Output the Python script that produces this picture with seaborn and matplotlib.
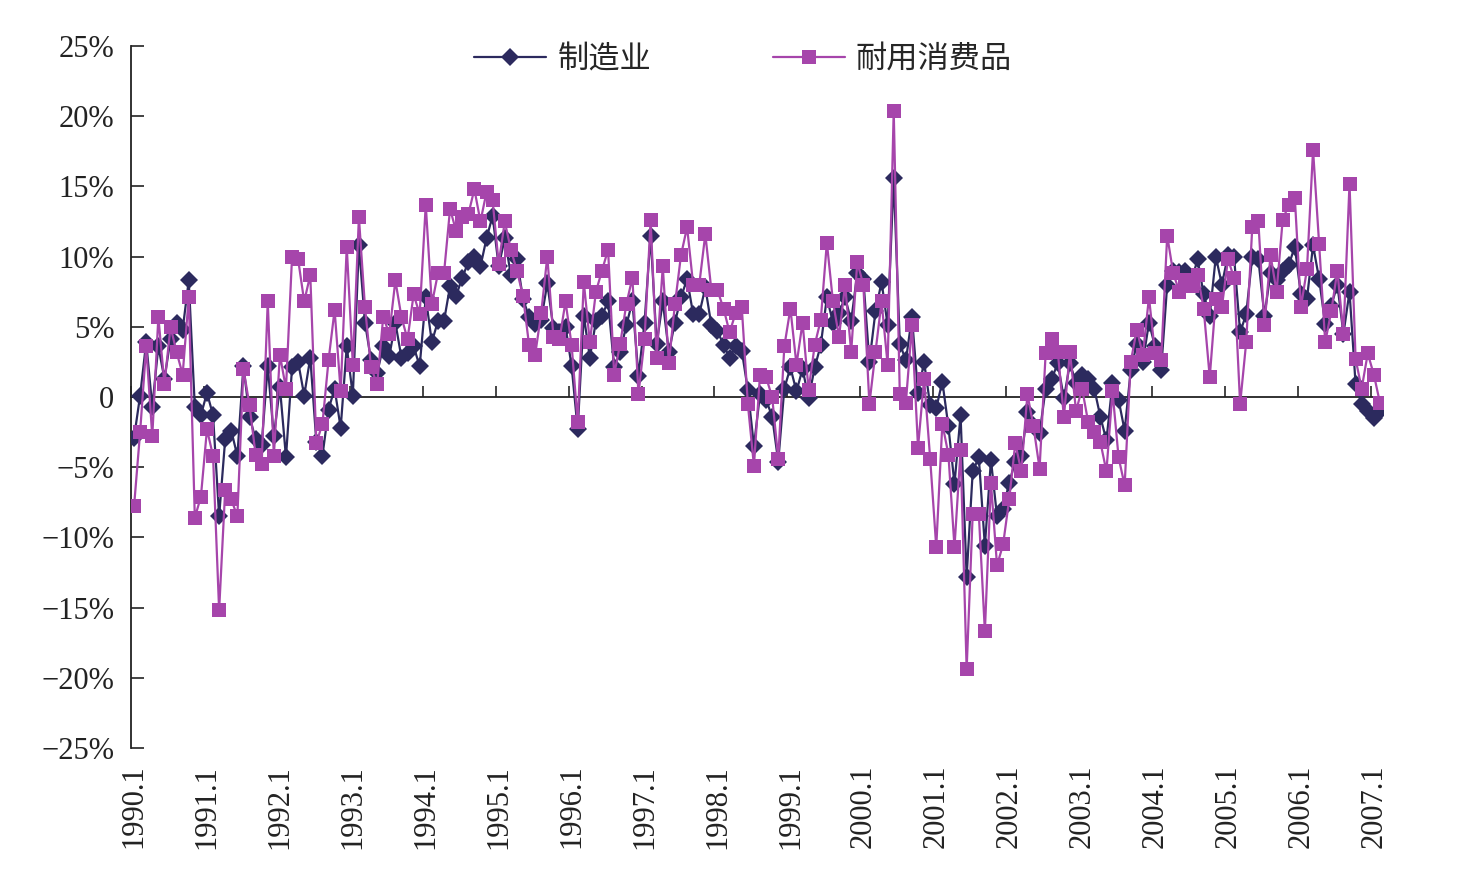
import numpy as np
import pandas as pd
import matplotlib
matplotlib.use("Agg")
import matplotlib.pyplot as plt
import seaborn as sns

# ---- data (monthly, 1990.1 - 2007.2), percent ----
manufacturing = [
    -2.9, 0.1, 3.9, -0.7, 3.6, 1.3, 4.1, 5.3, 4.8, 8.3, -0.7, -1.3,      # 1990
    0.3, -1.3, -8.5, -3.0, -2.4, -4.2, 2.2, -1.4, -3.0, -3.4, 2.2, -2.8,  # 1991
    0.7, -4.3, 2.1, 2.5, 0.1, 2.8, -3.2, -4.2, -0.9, 0.6, -2.2, 3.6,      # 1992
    0.1, 10.8, 5.3, 2.6, 1.7, 3.6, 2.9, 5.3, 2.8, 3.1, 3.6, 2.2,          # 1993
    7.1, 3.9, 5.4, 5.4, 7.9, 7.2, 8.5, 9.6, 10.0, 9.3, 11.3, 12.9,        # 1994
    9.3, 11.3, 8.7, 9.8, 7.0, 5.7, 5.2, 5.5, 8.1, 4.9, 4.6, 5.0,          # 1995
    2.2, -2.3, 5.8, 2.8, 5.4, 5.8, 6.8, 2.1, 3.2, 5.1, 6.8, 1.5,          # 1996
    5.3, 11.5, 3.8, 6.8, 3.2, 5.3, 7.1, 8.4, 5.9, 5.9, 7.8, 5.1,          # 1997
    4.7, 3.7, 2.8, 3.6, 3.3, 0.5, -3.5, 0.2, -0.2, -1.4, -4.6, 0.6,       # 1998
    2.1, 0.4, 2.0, -0.1, 2.1, 3.7, 7.1, 5.3, 6.0, 7.1, 5.4, 8.8,          # 1999
    8.4, 2.5, 6.1, 8.2, 5.1, 15.6, 3.8, 2.6, 5.7, 0.3, 2.5, -0.6,         # 2000
    -0.8, 1.1, -2.1, -6.2, -1.3, -12.8, -5.3, -4.3, -10.6, -4.5, -8.5, -8.0,  # 2001
    -6.1, -4.6, -4.2, -1.1, -2.0, -2.6, 0.6, 1.3, 2.4, -0.1, 2.4, 1.0,    # 2002
    1.6, 1.3, 0.6, -1.4, -3.1, 1.0, -0.2, -2.4, 1.9, 3.8, 2.5, 5.3,       # 2003
    3.6, 1.9, 8.0, 9.0, 8.9, 9.0, 8.3, 9.8, 7.3, 5.8, 10.0, 8.0,          # 2004
    10.1, 10.0, 4.6, 5.9, 10.0, 9.8, 5.8, 8.8, 8.3, 9.0, 9.4, 10.7,       # 2005
    7.3, 7.0, 10.8, 8.4, 5.2, 6.5, 8.0, 4.5, 7.5, 0.9, -0.5, -1.0,        # 2006
    -1.5, -1.0,                                                           # 2007
]
durables = [
    -7.8, -2.5, 3.6, -2.8, 5.7, 0.9, 5.0, 3.2, 1.6, 7.1, -8.6, -7.1,      # 1990
    -2.3, -4.2, -15.2, -6.6, -7.3, -8.5, 2.0, -0.6, -4.1, -4.8, 6.8, -4.2,  # 1991
    3.0, 0.6, 10.0, 9.8, 6.8, 8.7, -3.3, -1.9, 2.6, 6.2, 0.4, 10.7,       # 1992
    2.3, 12.8, 6.4, 2.1, 0.9, 5.7, 4.5, 8.3, 5.7, 4.1, 7.3, 5.9,          # 1993
    13.7, 6.6, 8.8, 8.8, 13.4, 11.8, 12.8, 13.0, 14.8, 12.5, 14.6, 14.0,  # 1994
    9.5, 12.5, 10.5, 9.0, 7.2, 3.7, 3.0, 6.0, 10.0, 4.3, 4.1, 6.8,        # 1995
    3.7, -1.8, 8.2, 3.9, 7.5, 9.0, 10.5, 1.6, 3.8, 6.6, 8.5, 0.2,         # 1996
    4.1, 12.6, 2.8, 9.3, 2.4, 6.6, 10.1, 12.1, 8.0, 8.0, 11.6, 7.6,       # 1997
    7.6, 6.3, 4.6, 6.0, 6.4, -0.5, -4.9, 1.6, 1.4, 0.0, -4.4, 3.6,        # 1998
    6.3, 2.3, 5.3, 0.5, 3.7, 5.5, 11.0, 6.8, 4.3, 8.0, 3.2, 9.6,          # 1999
    8.0, -0.5, 3.2, 6.8, 2.3, 20.4, 0.2, -0.4, 5.1, -3.6, 1.3, -4.4,      # 2000
    -10.7, -1.9, -4.1, -10.7, -3.8, -19.4, -8.3, -8.3, -16.7, -6.1, -12.0, -10.5,  # 2001
    -7.3, -3.3, -5.3, 0.2, -2.1, -5.1, 3.1, 4.1, 3.2, -1.4, 3.2, -1.0,    # 2002
    0.6, -1.8, -2.5, -3.2, -5.3, 0.4, -4.3, -6.3, 2.5, 4.8, 3.0, 7.1,     # 2003
    3.1, 2.6, 11.5, 8.8, 7.5, 8.3, 7.9, 8.7, 6.3, 1.4, 7.0, 6.4,          # 2004
    9.8, 8.5, -0.5, 3.9, 12.1, 12.5, 5.1, 10.1, 7.5, 12.6, 13.7, 14.2,    # 2005
    6.4, 9.1, 17.6, 10.9, 3.9, 6.1, 9.0, 4.5, 15.2, 2.7, 0.6, 3.1,        # 2006
    1.6, -0.4,                                                            # 2007
]
series_names = ["制造业", "耐用消费品"]
year_labels = [f"{y}.1" for y in range(1990, 2008)]
y_ticks = [25, 20, 15, 10, 5, 0, -5, -10, -15, -20, -25]
y_labels = ["25%", "20%", "15%", "10%", "5%", "0", "\u22125%", "\u221210%",
            "\u221215%", "\u221220%", "\u221225%"]

n = len(manufacturing)
df = pd.DataFrame({
    "idx": np.arange(n),
    series_names[0]: manufacturing,
    series_names[1]: durables,
})

sns.set_style("white")
plt.rcParams["font.family"] = ["Liberation Serif", "Noto Sans CJK SC", "DejaVu Sans"]
plt.rcParams["axes.unicode_minus"] = True

fig = plt.figure(figsize=(14.67, 8.74), dpi=100)
ax = fig.add_axes([0.0893, 0.1442, 0.8534, 0.8032])

navy = "#2C2A5E"
pink = "#A645AB"

sns.lineplot(data=df, x="idx", y=series_names[0], ax=ax, color=navy,
             marker="D", markersize=9, markeredgewidth=0, linewidth=1.6,
             label=series_names[0], zorder=3)
sns.lineplot(data=df, x="idx", y=series_names[1], ax=ax, color=pink,
             marker="s", markersize=9.5, markeredgewidth=0, linewidth=1.6,
             label=series_names[1], zorder=4)

ax.set_xlim(-0.5, n - 0.5)
ax.set_ylim(-25, 25)
ax.set_xlabel("")
ax.set_ylabel("")

# y axis
ax.set_yticks(y_ticks)
ax.set_yticklabels(y_labels)
ax.tick_params(axis="y", direction="in", length=9, width=1.2, pad=12,
               labelsize=22, left=True, colors="#222222")

# x axis line at zero with upward tick marks at year boundaries
for s in ["top", "right"]:
    ax.spines[s].set_visible(False)
ax.spines["left"].set_color("#222222")
ax.spines["left"].set_linewidth(1.3)
ax.spines["bottom"].set_position(("data", 0))
ax.spines["bottom"].set_color("#222222")
ax.spines["bottom"].set_linewidth(1.3)
ax.set_xticks(np.arange(0, n, 12) - 0.5)
ax.tick_params(axis="x", direction="in", length=8, width=1.2,
               labelbottom=False, bottom=True)

# labels at the bottom of the plot
sec = ax.secondary_xaxis("bottom")
sec.set_xticks(np.arange(0, n, 12))
sec.set_xticklabels(year_labels)
sec.tick_params(axis="x", length=0, pad=12, labelsize=22, labelrotation=90,
                colors="#222222")
sec.spines["bottom"].set_visible(False)

leg = ax.legend(loc="center", bbox_to_anchor=(0.489, 0.981), ncol=2,
                frameon=False, handlelength=2.3, handletextpad=0.35,
                columnspacing=3.9, prop={"family": ["Noto Sans CJK SC"], "size": 22.5})

ax.grid(False)
fig.savefig("out.png", dpi=100)
